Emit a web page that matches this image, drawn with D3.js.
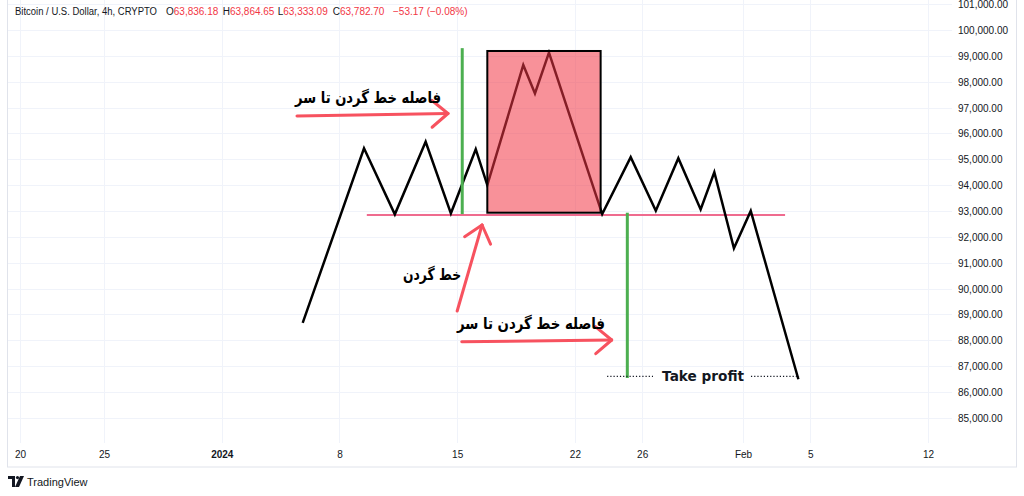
<!DOCTYPE html>
<html>
<head>
<meta charset="utf-8">
<script src="https://cdn.jsdelivr.net/npm/d3@7"></script>
<style>
  html, body { margin: 0; padding: 0; background: #ffffff; }
  svg { display: block; }
</style>
</head>
<body>
<svg id="chart" width="1024" height="496"></svg>
<script>
// ---------------- DATA ----------------
const priceTicks = [85000, 86000, 87000, 88000, 89000, 90000, 91000, 92000, 93000, 94000, 95000, 96000, 97000, 98000, 99000, 100000, 101000];
const timeTickDates = ["2023-12-20", "2023-12-25", "2024-01-01", "2024-01-08", "2024-01-15", "2024-01-22", "2024-01-26", "2024-02-01", "2024-02-05", "2024-02-12"];
const timeTickLabels = ["20", "25", "2024", "8", "15", "22", "26", "Feb", "5", "12"];

// zig-zag pattern (time, price)
const pathTimes = ["2024-01-05T19:30", "2024-01-09T11:00", "2024-01-11T07:00", "2024-01-13T03:00", "2024-01-14T15:00",
  "2024-01-16T02:30", "2024-01-16T19:00", "2024-01-18T22:20", "2024-01-19T15:00", "2024-01-20T11:00",
  "2024-01-23T15:00", "2024-01-25T07:40", "2024-01-26T19:30", "2024-01-28T03:40", "2024-01-29T11:30",
  "2024-01-30T07:00", "2024-01-31T11:00", "2024-02-01T11:00", "2024-02-04T07:00"];
const pathPrices = [88670, 95425, 92870, 95680, 92910,
  95390, 94000, 98650, 97550, 99125,
  92880, 95080, 93010, 95040, 93060,
  94500, 91560, 93000, 86490];

// head box
const boxTimes = ["2024-01-16T19:00", "2024-01-23T12:45"];
const boxPrices = [99190, 92934];

// neckline
const neckTimes = ["2024-01-09T15:00", "2024-02-03T12:00"];
const neckPrice = 92850;

// green measuring lines
const greenTimes = ["2024-01-15T07:12", "2024-01-25T02:50"];
const greenFrom = [99300, 92934];
const greenTo = [92880, 86540];

// arrows: start time/price -> end time/price
const arrowStartTimes = ["2024-01-05T11:20", "2024-01-15T00:00", "2024-01-15T06:30"];
const arrowStartPrices = [96675, 89132, 87944];
const arrowEndTimes = ["2024-01-14T10:50", "2024-01-16T11:30", "2024-01-24T04:30"];
const arrowEndPrices = [96772, 92458, 88010];

// Persian labels (right edge anchored)
const labelTexts = ["فاصله خط گردن تا سر", "خط گردن", "فاصله خط گردن تا سر"];
const labelTimes = ["2024-01-14T01:00", "2024-01-15T05:30", "2024-01-23T19:00"];
const labelPrices = [97410, 90563, 88648];

// take profit
const tpText = "Take profit";
const tpPrice = 86600;
const tpTextTime = "2024-01-29T15:00";
const tpDotStarts = ["2024-01-23T22:00", "2024-02-01T11:20"];
const tpDotEnds = ["2024-01-26T15:30", "2024-02-04T08:00"];

// header legend
const headerTitle = "Bitcoin / U.S. Dollar, 4h, CRYPTO";
const ohlcKeys = ["O", "H", "L", "C"];
const ohlcValues = ["63,836.18", "63,864.65", "63,333.09", "63,782.70"];
const changeText = "−53.17 (−0.08%)";

// ---------------- DRAW ----------------
const parse = d3.utcParse("%Y-%m-%dT%H:%M");
const parseDay = d3.utcParse("%Y-%m-%d");
const svg = d3.select("#chart");

const x = d3.scaleUtc()
  .domain([parseDay("2023-12-20"), parseDay("2024-02-12")])
  .range([20, 928]);
const y = d3.scaleLinear()
  .domain([85000, 101000])
  .range([417.8, 4.2]);

const plotLeft = 8, plotRight = 952, plotBottom = 443;

// frame
svg.append("rect")
  .attr("x", 7.5).attr("y", -1).attr("width", 1009).attr("height", 468)
  .attr("fill", "#ffffff").attr("stroke", "#e0e3eb").attr("stroke-width", 1);

// grid
const grid = svg.append("g");
grid.selectAll("line.h").data(priceTicks).enter().append("line")
  .attr("x1", plotLeft).attr("x2", plotRight)
  .attr("y1", d => Math.round(y(d)) + 0.5).attr("y2", d => Math.round(y(d)) + 0.5)
  .attr("stroke", "#f0f3fa").attr("stroke-width", 1);
grid.selectAll("line.v").data(timeTickDates).enter().append("line")
  .attr("x1", d => Math.round(x(parseDay(d))) + 0.5).attr("x2", d => Math.round(x(parseDay(d))) + 0.5)
  .attr("y1", 0).attr("y2", plotBottom)
  .attr("stroke", "#f0f3fa").attr("stroke-width", 1);

// price axis
const yAxis = d3.axisRight(y).tickValues(priceTicks).tickSize(0).tickPadding(0)
  .tickFormat(d => d3.format(",.2f")(d));
const gy = svg.append("g").attr("transform", "translate(958,0)").call(yAxis);
gy.select(".domain").remove();
gy.selectAll("text").attr("fill", "#131722").attr("font-size", "10px")
  .attr("font-family", "Liberation Sans, Arial, sans-serif").attr("dy", "0.35em");

// time axis
const xAxis = d3.axisBottom(x).tickValues(timeTickDates.map(parseDay)).tickSize(0).tickPadding(0)
  .tickFormat((d, i) => timeTickLabels[i]);
const gx = svg.append("g").attr("transform", "translate(0,451)").call(xAxis);
gx.select(".domain").remove();
gx.selectAll("text").attr("fill", "#131722").attr("font-size", "10px")
  .attr("font-family", "Liberation Sans, Arial, sans-serif")
  .attr("font-weight", (d, i) => timeTickLabels[i] === "2024" ? "bold" : "normal");

// neckline
svg.append("line")
  .attr("x1", x(parse(neckTimes[0]))).attr("x2", x(parse(neckTimes[1])))
  .attr("y1", y(neckPrice)).attr("y2", y(neckPrice))
  .attr("stroke", "#ef6b8f").attr("stroke-width", 2);

// zig-zag line
const pts = pathTimes.map((t, i) => [x(parse(t)), y(pathPrices[i])]);
svg.append("path")
  .attr("d", d3.line()(pts))
  .attr("fill", "none").attr("stroke", "#000000").attr("stroke-width", 2.5)
  .attr("stroke-linejoin", "miter");

// head box
const bx0 = x(parse(boxTimes[0])), bx1 = x(parse(boxTimes[1]));
const by0 = y(boxPrices[0]), by1 = y(boxPrices[1]);
svg.append("rect")
  .attr("x", bx0).attr("y", by0).attr("width", bx1 - bx0).attr("height", by1 - by0)
  .attr("fill", "rgba(242,54,69,0.55)").attr("stroke", "#000000").attr("stroke-width", 2);

// green lines
svg.selectAll("line.green").data(greenTimes).enter().append("line")
  .attr("x1", d => x(parse(d))).attr("x2", d => x(parse(d)))
  .attr("y1", (d, i) => y(greenFrom[i])).attr("y2", (d, i) => y(greenTo[i]))
  .attr("stroke", "#4caf50").attr("stroke-width", 3);

// arrows
const arrowColor = "#f7525f";
arrowStartTimes.forEach((t, i) => {
  const x0 = x(parse(t)), y0 = y(arrowStartPrices[i]);
  const x1 = x(parse(arrowEndTimes[i])), y1 = y(arrowEndPrices[i]);
  const ang = Math.atan2(y0 - y1, x0 - x1);
  const L = 21, a = 40 * Math.PI / 180;
  const g = svg.append("g").attr("stroke", arrowColor).attr("stroke-width", 3)
    .attr("stroke-linecap", "round").attr("fill", "none");
  g.append("line").attr("x1", x0).attr("y1", y0).attr("x2", x1).attr("y2", y1);
  g.append("line").attr("x1", x1).attr("y1", y1)
    .attr("x2", x1 + L * Math.cos(ang + a)).attr("y2", y1 + L * Math.sin(ang + a));
  g.append("line").attr("x1", x1).attr("y1", y1)
    .attr("x2", x1 + L * Math.cos(ang - a)).attr("y2", y1 + L * Math.sin(ang - a));
});

// Persian labels
const labelWidths = [146, 58, 148];
labelTexts.forEach((txt, i) => {
  const t = svg.append("text")
    .attr("x", x(parse(labelTimes[i]))).attr("y", y(labelPrices[i]))
    .attr("dy", "0.35em")
    .attr("text-anchor", "end")
    .attr("font-family", "DejaVu Sans, sans-serif")
    .attr("font-weight", "bold").attr("font-size", "16px")
    .attr("fill", "#000000")
    .text(txt);
  const w = t.node().getComputedTextLength();
  if (w > labelWidths[i]) {
    t.attr("textLength", labelWidths[i]).attr("lengthAdjust", "spacingAndGlyphs");
  }
});

// take profit
tpDotStarts.forEach((t, i) => {
  svg.append("line")
    .attr("x1", x(parse(t))).attr("x2", x(parse(tpDotEnds[i])))
    .attr("y1", y(tpPrice)).attr("y2", y(tpPrice))
    .attr("stroke", "#131722").attr("stroke-width", 1.2).attr("stroke-dasharray", "1.2,2");
});
svg.append("text")
  .attr("x", x(parse(tpTextTime))).attr("y", y(tpPrice))
  .attr("dy", "0.35em").attr("text-anchor", "middle")
  .attr("font-family", "DejaVu Sans, sans-serif")
  .attr("font-weight", "bold").attr("font-size", "14px")
  .attr("textLength", 82).attr("lengthAdjust", "spacingAndGlyphs")
  .attr("fill", "#131722").text(tpText);

// header legend (each piece as its own text to avoid overlap)
const headFont = "Liberation Sans, Arial, sans-serif";
svg.append("text").attr("x", 15).attr("y", 11).attr("dy", "0.35em")
  .attr("font-family", headFont).attr("font-size", "10px").attr("fill", "#131722")
  .attr("textLength", 142).attr("lengthAdjust", "spacingAndGlyphs").text(headerTitle);
const keyX = [166, 222.7, 277.7, 332.7];
ohlcKeys.forEach((k, i) => {
  const t = svg.append("text").attr("x", keyX[i]).attr("y", 11).attr("dy", "0.35em")
    .attr("font-family", headFont).attr("font-size", "10px");
  t.append("tspan").attr("fill", "#131722").text(k);
  t.append("tspan").attr("fill", "#f23645").text(ohlcValues[i]);
});
svg.append("text").attr("x", 393).attr("y", 11).attr("dy", "0.35em")
  .attr("font-family", headFont).attr("font-size", "10px")
  .attr("fill", "#f23645").text(changeText);

// TradingView logo
const logo = svg.append("g").attr("transform", "translate(8,475)");
logo.append("path").attr("d", "M0,1 H7 V12 H4 V4 H0 Z").attr("fill", "#131722");
logo.append("circle").attr("cx", 9.5).attr("cy", 2.6).attr("r", 1.6).attr("fill", "#131722");
logo.append("path").attr("d", "M12,1 H16 L11,12 H7 Z").attr("fill", "#131722");
svg.append("text").attr("x", 27).attr("y", 482).attr("dy", "0.35em")
  .attr("font-family", "Liberation Sans, Arial, sans-serif").attr("font-size", "11px")
  .attr("fill", "#131722").text("TradingView");
</script>
</body>
</html>
